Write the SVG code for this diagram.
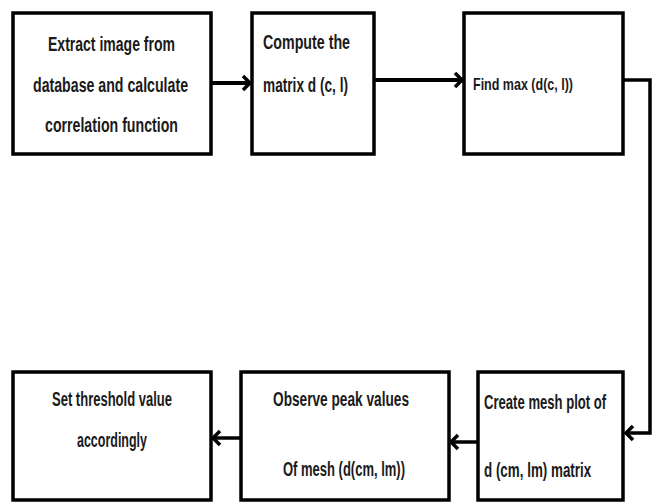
<svg xmlns="http://www.w3.org/2000/svg" width="656" height="503" viewBox="0 0 656 503">
<style>
.box{fill:#fff;stroke:#000;stroke-width:3.5}
.t{font-family:"Liberation Sans",Arial,sans-serif;font-weight:bold;font-size:20px;fill:#1a1a1a}
.ln{fill:none;stroke:#000;stroke-width:4}
.hd{fill:none;stroke:#000;stroke-width:3.5;stroke-linejoin:miter;stroke-linecap:butt}
</style>
<rect width="656" height="503" fill="#fff"/>
<g id="n1"><rect class="box" x="13" y="13" width="198" height="141"/>
<text class="t" x="48" y="51" textLength="127" lengthAdjust="spacingAndGlyphs">Extract image from</text>
<text class="t" x="33" y="92" textLength="155" lengthAdjust="spacingAndGlyphs">database and calculate</text>
<text class="t" x="45" y="132" textLength="133" lengthAdjust="spacingAndGlyphs">correlation function</text></g>
<g id="n2"><rect class="box" x="252" y="13" width="122" height="141"/>
<text class="t" x="263" y="49" textLength="87" lengthAdjust="spacingAndGlyphs">Compute the</text>
<text class="t" x="263" y="92" textLength="85" lengthAdjust="spacingAndGlyphs">matrix d (c, l)</text></g>
<g id="n3"><rect class="box" x="464" y="13" width="159" height="141"/>
<text class="t" x="473" y="90" style="font-size:17px" textLength="100" lengthAdjust="spacingAndGlyphs">Find max (d(c, l))</text></g>
<g id="n4"><rect class="box" x="13" y="372" width="198" height="128"/>
<text class="t" x="52" y="406" textLength="120" lengthAdjust="spacingAndGlyphs">Set threshold value</text>
<text class="t" x="77" y="447" textLength="70" lengthAdjust="spacingAndGlyphs">accordingly</text></g>
<g id="n5"><rect class="box" x="241" y="372" width="208" height="128"/>
<text class="t" x="273" y="406" textLength="136" lengthAdjust="spacingAndGlyphs">Observe peak values</text>
<text class="t" x="283" y="476" textLength="122" lengthAdjust="spacingAndGlyphs">Of mesh (d(cm, lm))</text></g>
<g id="n6"><rect class="box" x="478" y="372" width="145" height="128"/>
<text class="t" transform="translate(484,409) scale(0.655,1)">Create mesh plot of</text>
<text class="t" transform="translate(484,477) scale(0.67,1)">d (cm, lm) matrix</text></g>
<g id="connectors">
<path class="ln" d="M211 83H249"/>
<path class="hd" d="M243 76L250 83L243 90"/>
<path class="ln" d="M374 80H461"/>
<path class="hd" d="M455 73L462 80L455 87"/>
<path class="ln" d="M623 80H650V433H627" style="stroke-width:3.5"/>
<path class="hd" d="M633 426L626 433L633 440"/>
<path class="ln" d="M478 442H452" style="stroke-width:3.5"/>
<path class="hd" d="M458 435L451 442L458 449"/>
<path class="ln" d="M241 438H214" style="stroke-width:3.5"/>
<path class="hd" d="M220 431L213 438L220 445"/>
</g>
</svg>
